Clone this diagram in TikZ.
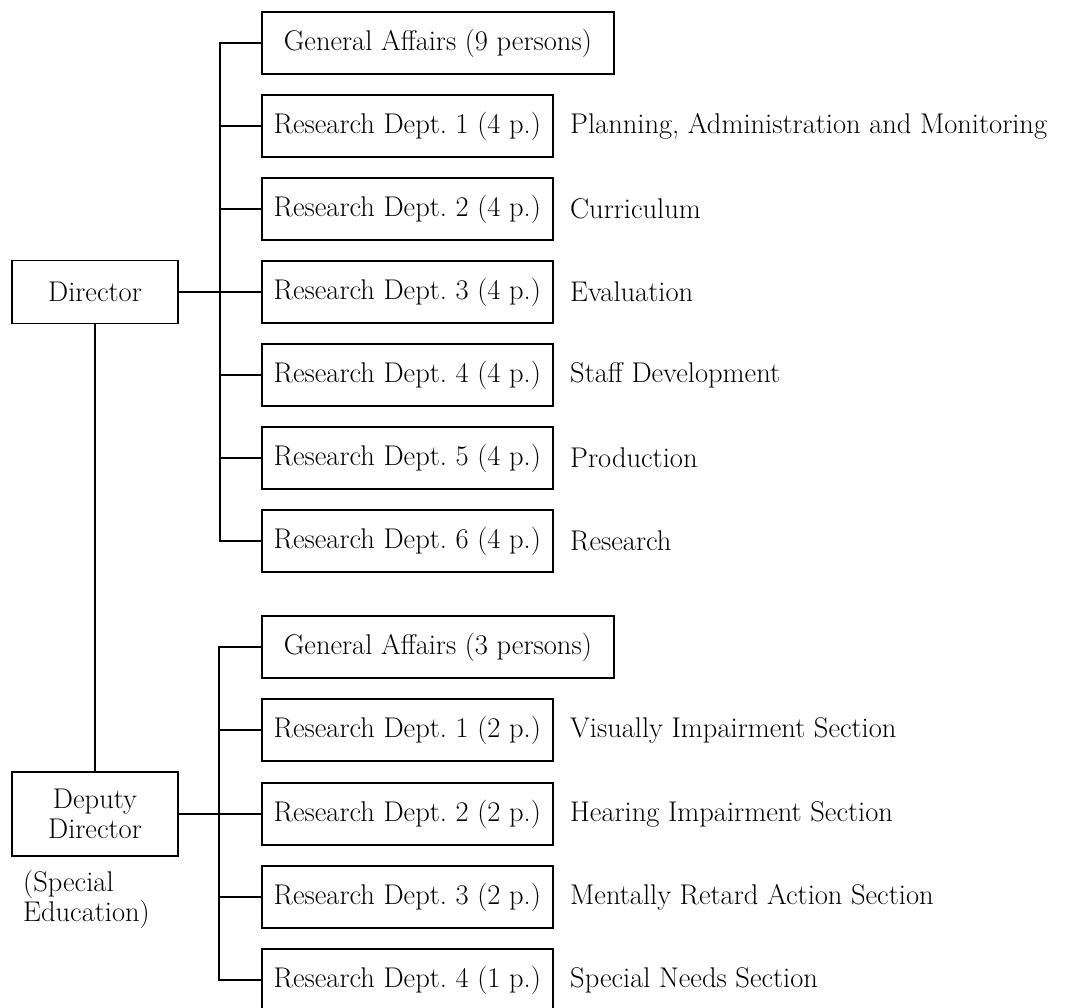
\documentclass[tikz,border=0pt]{standalone}
\begin{document}
\begin{tikzpicture}[x=1pt,y=-1pt,
  every node/.style={font=\fontsize{28.5}{30}\selectfont\frenchspacing},
  box/.style={draw, line width=1.6pt, minimum height=62pt, inner sep=0pt},
  rd/.style={box, minimum width=291pt, anchor=west},
  ga/.style={box, minimum width=352pt, anchor=west},
  lab/.style={anchor=west, inner sep=0pt},
  conn/.style={line width=1.6pt}]
\useasboundingbox (0,0) rectangle (1087,1008);
% left column
\node[box, minimum width=166pt, minimum height=63pt] (dir) at (95,292) {Director};
\node[box, minimum width=166pt, minimum height=84pt, align=center] (dep) at (95,814) {Deputy\\Director};
\node[anchor=north west, inner sep=0pt, align=left] (spec) at (23,870) {(Special\\Education)};
% upper group
\node[ga] (ga1) at (261,43) {General Affairs (9 persons)};
\node[rd] (u1) at (261,126) {Research Dept. 1 (4 p.)};
\node[rd] (u2) at (261,209) {Research Dept. 2 (4 p.)};
\node[rd] (u3) at (261,292) {Research Dept. 3 (4 p.)};
\node[rd] (u4) at (261,375) {Research Dept. 4 (4 p.)};
\node[rd] (u5) at (261,458) {Research Dept. 5 (4 p.)};
\node[rd] (u6) at (261,541) {Research Dept. 6 (4 p.)};
\node[lab] (tu1) at (570,126) {Planning, Administration and Monitoring};
\node[lab] (tu2) at (570,209) {Curriculum};
\node[lab] (tu3) at (570,292) {Evaluation};
\node[lab] (tu4) at (570,375) {Staff Development};
\node[lab] (tu5) at (570,458) {Production};
\node[lab] (tu6) at (570,541) {Research};
% lower group
\node[ga] (ga2) at (261,647) {General Affairs (3 persons)};
\node[rd] (l1) at (261,730) {Research Dept. 1 (2 p.)};
\node[rd] (l2) at (261,814) {Research Dept. 2 (2 p.)};
\node[rd] (l3) at (261,897) {Research Dept. 3 (2 p.)};
\node[rd] (l4) at (261,980) {Research Dept. 4 (1 p.)};
\node[lab] (tl1) at (570,730) {Visually Impairment Section};
\node[lab] (tl2) at (570,814) {Hearing Impairment Section};
\node[lab] (tl3) at (570,897) {Mentally Retard Action Section};
\node[lab] (tl4) at (570,980) {Special Needs Section};
% connectors upper
\draw[conn] (ga1.west) -| ([xshift=-41pt]u6.west) -- (u6.west);
\foreach \n in {u1,u2,u4,u5} \draw[conn] (\n.west) -- ++(-41,0);
\draw[conn] (dir.east) -- (u3.west);
% connectors lower
\draw[conn] (ga2.west) -| ([xshift=-42pt]l4.west) -- (l4.west);
\foreach \n in {l1,l3} \draw[conn] (\n.west) -- ++(-42,0);
\draw[conn] (dep.east) -- (l2.west);
\draw[conn] (dir.south) -- (dep.north);
\end{tikzpicture}
\end{document}
